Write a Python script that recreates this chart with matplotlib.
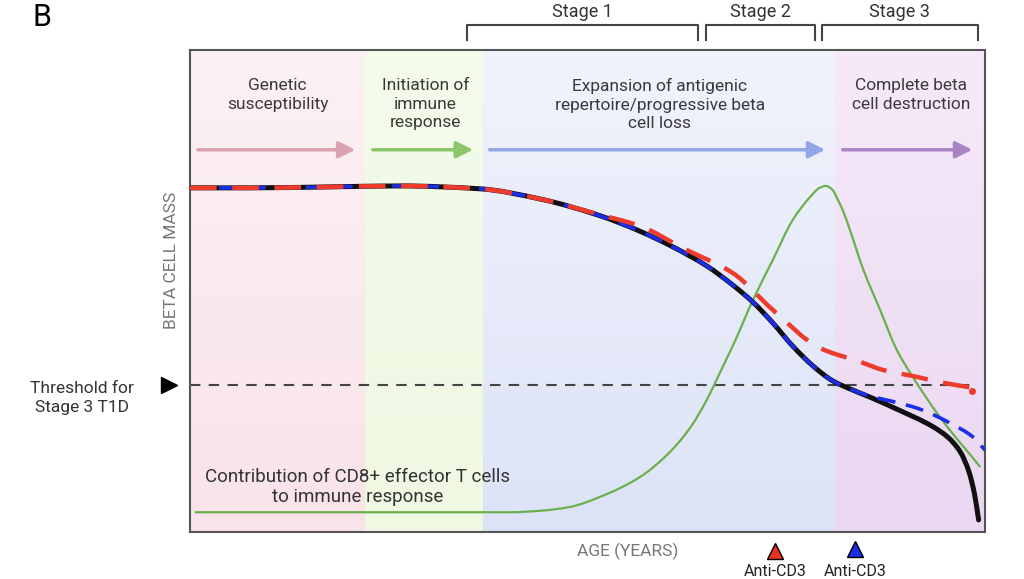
import numpy as np
import matplotlib
matplotlib.use("Agg")
import matplotlib.pyplot as plt
from matplotlib.colors import LinearSegmentedColormap
from matplotlib.path import Path
from matplotlib.patches import PathPatch

plt.rcParams['font.family'] = ['Roboto', 'DejaVu Sans']

# Schematic data (age and beta cell mass, arbitrary 0-100 units)
age_main = [0, 7.5, 17.6, 26.4, 36.5, 44.0, 51.6, 56.6, 60.8, 65.0, 68.3, 70.8,
            73.3, 75.8, 78.4, 80.9, 83.0, 85.5, 88.9, 93.5, 95.3, 96.9, 98.0,
            98.7, 99.2]
mass_main = [71.4, 71.4, 71.6, 71.8, 71.2, 69.1, 65.6, 62.4, 59.1, 55.2, 51.2, 47.7,
             43.4, 38.6, 34.4, 31.3, 29.7, 28.0, 25.5, 21.8, 19.7, 16.6, 12.4,
             7.7, 2.5]

age_red = [0, 7.5, 17.6, 26.4, 36.5, 44.0, 51.6, 56.6, 62.0, 68.3, 73.3, 79.2,
           84.3, 87.2, 91.4, 94.3, 98.5]
mass_red = [71.4, 71.4, 71.6, 71.8, 71.2, 69.1, 65.8, 63.5, 58.9, 53.7, 46.1, 38.2,
            35.3, 33.6, 32.2, 31.1, 29.9]

age_blue = [0, 7.5, 17.6, 26.4, 36.5, 44.0, 51.6, 56.6, 60.8, 65.0, 68.3, 70.8,
            73.3, 75.8, 78.4, 80.9, 83.0, 85.5, 88.1, 91.8, 95.6, 98.5, 100.0]
mass_blue = [71.4, 71.4, 71.6, 71.8, 71.2, 69.1, 65.6, 62.4, 59.1, 55.2, 51.2, 47.7,
             43.4, 38.6, 34.4, 31.3, 29.7, 28.2, 27.2, 25.5, 22.6, 19.7, 17.0]

age_cd8 = [0.6, 20.1, 40.3, 44.0, 47.8, 51.6, 56.6, 60.0, 62.9, 65.0, 66.7, 68.6,
           70.8, 73.3, 75.8, 78.0, 79.2, 80.0, 80.8, 81.5, 82.1, 83.0, 84.7, 86.8,
           88.9, 90.9, 94.3, 99.4]
cd8 = [4.1, 4.1, 4.1, 4.4, 5.2, 7.3, 11.4, 16.0, 21.6, 27.4, 33.2, 39.8, 48.1,
       56.4, 64.7, 69.5, 71.4, 71.8, 71.0, 68.9, 66.8, 62.7, 54.4, 46.1, 37.8,
       32.2, 23.9, 13.5]

threshold = 30.5

# phases: (start, end, top colour, bottom colour)
phase_edges = [0, 22.0, 36.9, 81.1, 100]
phase_top = ['#fcf1f4', '#f3fbea', '#f1f3fc', '#f6eaf9']
phase_bottom = ['#f8e3e8', '#eef8e2', '#dde3f7', '#ead7f1']
phase_labels = ['Genetic\nsusceptibility', 'Initiation of\nimmune\nresponse',
                'Expansion of antigenic\nrepertoire/progressive beta\ncell loss',
                'Complete beta\ncell destruction']
label_x = [11.0, 29.6, 59.1, 90.7]
arrow_start = [1.0, 23.0, 37.7, 82.1]
arrow_end = [20.8, 35.6, 79.9, 98.4]
arrow_colors = ['#dba2ae', '#8cc66b', '#91a6e6', '#aa84c2']

stages = ['Stage 1', 'Stage 2', 'Stage 3']
stage_start = [34.8, 64.9, 79.5]
stage_end = [63.9, 78.6, 99.1]


def smooth_path(xs, ys):
    # monotone cubic (Fritsch-Carlson) through the points, as Bezier segments
    x = np.asarray(xs, float)
    y = np.asarray(ys, float)
    h = np.diff(x)
    d = np.diff(y) / h
    m = np.zeros_like(y)
    m[0], m[-1] = d[0], d[-1]
    for k in range(1, len(x) - 1):
        if d[k - 1] * d[k] <= 0:
            m[k] = 0
        else:
            w1 = 2 * h[k] + h[k - 1]
            w2 = h[k] + 2 * h[k - 1]
            m[k] = (w1 + w2) / (w1 / d[k - 1] + w2 / d[k])
    verts = [(x[0], y[0])]
    codes = [Path.MOVETO]
    for k in range(len(x) - 1):
        verts += [(x[k] + h[k] / 3, y[k] + m[k] * h[k] / 3),
                  (x[k + 1] - h[k] / 3, y[k + 1] - m[k + 1] * h[k] / 3),
                  (x[k + 1], y[k + 1])]
        codes += [Path.CURVE4] * 3
    return Path(verts, codes)


def draw_curve(ax, xs, ys, **kw):
    patch = PathPatch(smooth_path(xs, ys), fill=False, **kw)
    ax.add_patch(patch)
    return patch


fig = plt.figure(figsize=(10.24, 5.79), dpi=100)
ax = fig.add_axes([190 / 1024, 1 - 532 / 579, 795 / 1024, 482 / 579])
ax.set_xlim(0, 100)
ax.set_ylim(0, 100)

# background gradients
for i in range(4):
    cmap = LinearSegmentedColormap.from_list('g', [phase_bottom[i], phase_top[i]])
    grad = np.linspace(0, 1, 100).reshape(-1, 1)
    ax.imshow(grad, extent=[phase_edges[i], phase_edges[i + 1], 0, 100],
              origin='lower', aspect='auto', cmap=cmap, zorder=0)

for i in range(4):
    ax.text(label_x[i], 94.2, phase_labels[i], ha='center', va='top',
            fontsize=12.5, color='#3a3a3a', linespacing=1.3)
    ax.annotate('', xy=(arrow_end[i], 79.3), xytext=(arrow_start[i], 79.3),
                arrowprops=dict(arrowstyle='-|>,head_length=1.0,head_width=0.5',
                                color=arrow_colors[i], lw=2.5, shrinkA=0, shrinkB=0))

ax.plot([0, 98.7], [threshold, threshold], color='#444444', lw=1.5,
        dashes=(5, 4), zorder=2)

draw_curve(ax, age_cd8, cd8, edgecolor='#6ab04c', lw=1.6, zorder=3)
draw_curve(ax, age_main, mass_main, edgecolor='#111111', lw=3.6,
           capstyle='round', zorder=4)
draw_curve(ax, age_blue, mass_blue, edgecolor='#1a2ee8', lw=2.6,
           linestyle=(0, (5, 3)), zorder=5)
draw_curve(ax, age_red, mass_red, edgecolor='#ee3b2c', lw=3.2,
           linestyle=(0, (6, 3.5)), zorder=6)
ax.plot([98.4], [29.3], 'o', color='#ee3b2c', ms=4, zorder=6)

ax.text(21.1, 9.4, 'Contribution of CD8+ effector T cells\nto immune response',
        ha='center', va='center', fontsize=13.5, color='#333333', linespacing=1.15,
        zorder=7)

ax.set_xticks([])
ax.set_yticks([])
for s in ax.spines.values():
    s.set_color('#555555')
    s.set_linewidth(1.5)

# stage brackets above the panel
for i in range(3):
    ax.plot([stage_start[i], stage_start[i], stage_end[i], stage_end[i]],
            [102.0, 105.2, 105.2, 102.0], color='#444444', lw=1.5,
            clip_on=False)
    ax.text((stage_start[i] + stage_end[i]) / 2, 107.9, stages[i], ha='center',
            va='center', fontsize=13, color='#333333')

ax.plot([-2.6], [threshold], marker='>', color='black', ms=11, clip_on=False)

fig.text(42 / 1024, 1 - 18 / 579, 'B', fontsize=22, ha='center', va='center')
fig.text(82 / 1024, 1 - 398 / 579, 'Threshold for\nStage 3 T1D', fontsize=12.5,
         ha='center', va='center', color='#333333', linespacing=1.35)
fig.text(172 / 1024, 1 - 260 / 579, 'BETA CELL MASS', fontsize=12.5, rotation=90,
         ha='center', va='center', color='#777777')
fig.text(628 / 1024, 1 - 551 / 579, 'AGE (YEARS)', fontsize=12.5, ha='center',
         va='center', color='#777777')

fig.add_artist(plt.Line2D([775 / 1024], [1 - 551 / 579], marker='^', ms=12,
                          color='#e8321f', markeredgecolor='black'))
fig.add_artist(plt.Line2D([855 / 1024], [1 - 549 / 579], marker='^', ms=12,
                          color='#1a2ee8', markeredgecolor='black'))
for xp in [775, 855]:
    fig.text(xp / 1024, 1 - 571 / 579, 'Anti-CD3', fontsize=11.5, ha='center',
             va='center', color='#222222')

fig.savefig('out.png', dpi=100)
